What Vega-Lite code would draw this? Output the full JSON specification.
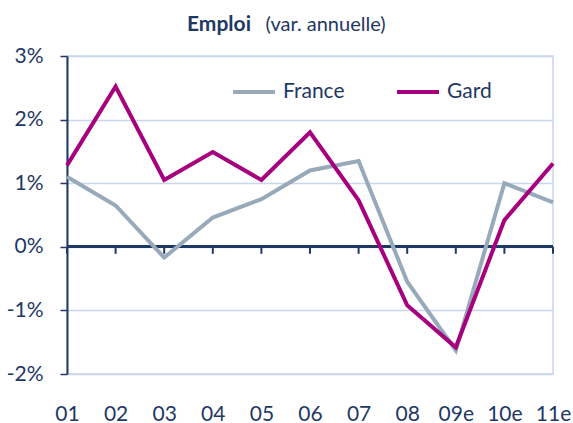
{
  "$schema": "https://vega.github.io/schema/vega-lite/v6.json",
  "width": 486,
  "height": 318,
  "autosize": {"type": "none"},
  "padding": {"left": 67, "top": 56, "right": 20, "bottom": 49},
  "background": "white",
  "config": {
    "font": "Lato",
    "view": {"stroke": "#C9D6EE", "strokeWidth": 1.5}
  },
  "title": {
    "text": "Emploi",
    "anchor": "start",
    "frame": "group",
    "dx": 120,
    "fontSize": 21,
    "fontWeight": "bold",
    "color": "#1F3864",
    "offset": -21
  },
  "data": {
    "values": [
      {"annee": "01", "serie": "France", "valeur": 1.10},
      {"annee": "02", "serie": "France", "valeur": 0.65},
      {"annee": "03", "serie": "France", "valeur": -0.17},
      {"annee": "04", "serie": "France", "valeur": 0.46},
      {"annee": "05", "serie": "France", "valeur": 0.75},
      {"annee": "06", "serie": "France", "valeur": 1.20},
      {"annee": "07", "serie": "France", "valeur": 1.35},
      {"annee": "08", "serie": "France", "valeur": -0.55},
      {"annee": "09e", "serie": "France", "valeur": -1.63},
      {"annee": "10e", "serie": "France", "valeur": 1.00},
      {"annee": "11e", "serie": "France", "valeur": 0.70},
      {"annee": "01", "serie": "Gard", "valeur": 1.28},
      {"annee": "02", "serie": "Gard", "valeur": 2.52},
      {"annee": "03", "serie": "Gard", "valeur": 1.05},
      {"annee": "04", "serie": "Gard", "valeur": 1.49},
      {"annee": "05", "serie": "Gard", "valeur": 1.05},
      {"annee": "06", "serie": "Gard", "valeur": 1.80},
      {"annee": "07", "serie": "Gard", "valeur": 0.73},
      {"annee": "08", "serie": "Gard", "valeur": -0.92},
      {"annee": "09e", "serie": "Gard", "valeur": -1.58},
      {"annee": "10e", "serie": "Gard", "valeur": 0.42},
      {"annee": "11e", "serie": "Gard", "valeur": 1.31}
    ]
  },
  "encoding": {
    "x": {
      "field": "annee",
      "type": "ordinal",
      "scale": {"type": "point", "padding": 0},
      "sort": null,
      "axis": {
        "title": null,
        "domain": false,
        "ticks": false,
        "tickSize": 0,
        "grid": false,
        "labelAngle": 0,
        "labelBaseline": "alphabetic",
        "labelPadding": 46,
        "labelFontSize": 21,
        "labelColor": "#1F3864"
      }
    }
  },
  "layer": [
    {
      "transform": [{"filter": "datum.serie === 'France'"}],
      "mark": {"type": "rule", "color": "#1F3864", "strokeWidth": 2},
      "encoding": {
        "y": {"datum": 0, "type": "quantitative"},
        "y2": {"datum": -0.11}
      }
    },
    {
      "mark": {"type": "rule", "color": "#1F3864", "strokeWidth": 2},
      "encoding": {
        "y": {"datum": 0, "type": "quantitative"},
        "x": null
      }
    },
    {
      "mark": {"type": "line", "strokeWidth": 4, "strokeJoin": "miter"},
      "encoding": {
        "y": {
          "field": "valeur",
          "type": "quantitative",
          "scale": {"domain": [-2, 3], "nice": false, "zero": false},
          "axis": {
            "title": "(var. annuelle)",
            "titleAngle": 0,
            "titleX": 198,
            "titleY": -26,
            "titleAlign": "left",
            "titleBaseline": "alphabetic",
            "titleFontSize": 20,
            "titleFontWeight": "normal",
            "titleColor": "#1F3864",
            "values": [-2, -1, 0, 1, 2, 3],
            "labelExpr": "datum.value + '%'",
            "grid": true,
            "gridColor": "#C9D6EE",
            "gridWidth": 1.5,
            "domainColor": "#1F3864",
            "domainWidth": 2,
            "tickColor": "#1F3864",
            "tickWidth": 1.5,
            "tickSize": 7,
            "labelPadding": 17,
            "labelFontSize": 21,
            "labelColor": "#1F3864"
          }
        },
        "color": {
          "field": "serie",
          "type": "nominal",
          "scale": {"domain": ["France", "Gard"], "range": ["#98A9BA", "#A6007F"]},
          "legend": {
            "title": null,
            "orient": "none",
            "legendX": 164,
            "legendY": 13,
            "direction": "horizontal",
            "symbolType": "stroke",
            "symbolSize": 1764,
            "symbolStrokeWidth": 4,
            "labelFontSize": 21,
            "labelColor": "#1F3864",
            "labelOffset": 6,
            "columnPadding": 44,
            "padding": 0
          }
        }
      }
    }
  ]
}
